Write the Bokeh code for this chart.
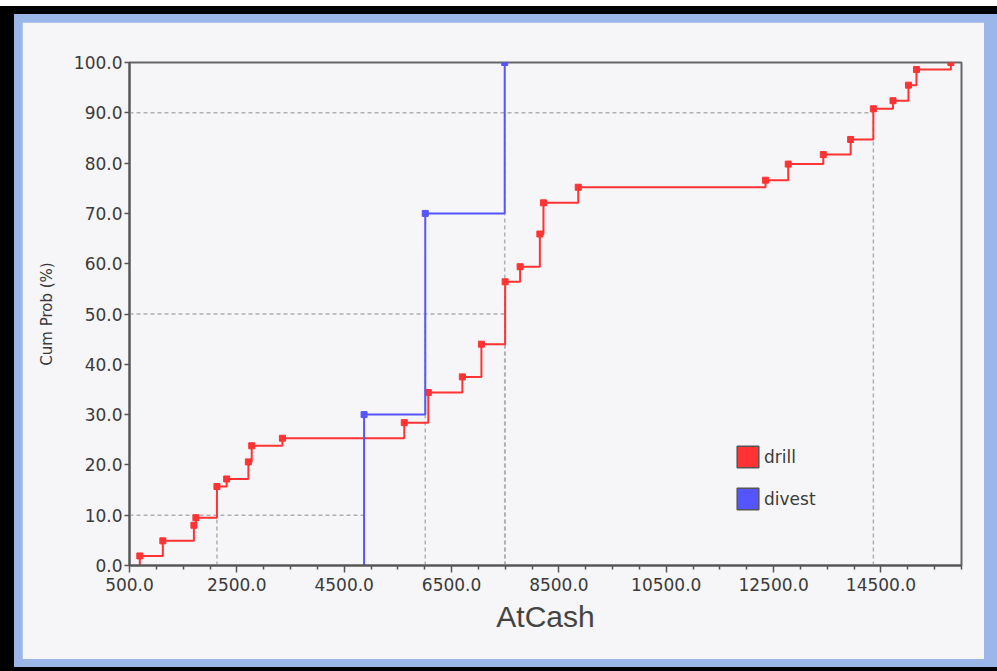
from bokeh.plotting import figure
from bokeh.models import Range1d, FixedTicker, NumeralTickFormatter, Legend, LegendItem
from bokeh.layouts import column
from bokeh.embed import file_html
from bokeh.resources import INLINE

# ---- data ----
drill_x = [692, 1121, 1700, 1737, 2129, 2310, 2715, 2777, 3349, 5619, 6067,
           6701, 7056, 7498, 7777, 8145, 8212, 8860,
           12349, 12772, 13425, 13935, 14358, 14724, 15012, 15161, 15802]
drill_cum = [1.9, 4.9, 8.0, 9.5, 15.7, 17.2, 20.6, 23.8, 25.3, 28.4, 34.4,
             37.5, 44.0, 56.4, 59.4, 65.9, 72.1, 75.2,
             76.6, 79.8, 81.7, 84.7, 90.8, 92.4, 95.5, 98.6, 100.0]
divest_x = [4870, 6010, 7490]
divest_cum = [30.0, 70.0, 100.0]

pct_levels = [10, 50, 90]
drill_pct_x = [2129, 7498, 14358]
divest_pct_x = [4870, 6010, 7490]

x_min, x_max = 500, 16000
y_min, y_max = 0, 100
x_major_ticks = [500, 2500, 4500, 6500, 8500, 10500, 12500, 14500]
x_minor_ticks = [1000, 1500, 2000, 3000, 3500, 4000, 5000, 5500, 6000, 7000, 7500, 8000,
                 9000, 9500, 10000, 11000, 11500, 12000, 13000, 13500, 14000, 15000,
                 15500, 16000]
y_ticks = [0, 10, 20, 30, 40, 50, 60, 70, 80, 90, 100]

RED = "#ff3333"
BLUE = "#5555ff"
PANEL = "#f6f5f8"
TXT = "#3a3a3a"
FONT = "DejaVu Sans"
NAN = float("nan")

p = figure(width=962, height=637, output_backend="svg", toolbar_location=None,
           x_range=Range1d(x_min, x_max), y_range=Range1d(y_min, y_max),
           min_border_left=107, min_border_right=23, min_border_top=40, min_border_bottom=94)
p.background_fill_color = PANEL
p.border_fill_color = PANEL
p.outline_line_color = "#666666"
p.outline_line_width = 2
p.xgrid.visible = False
p.ygrid.visible = False

# percentile reference lines (dashed)
for lvl, dx, vx in zip(pct_levels, drill_pct_x, divest_pct_x):
    p.line([x_min, max(dx, vx)], [lvl, lvl], line_color="#b0b0b0", line_width=1.5, line_dash="4 3")
    p.line([dx, dx], [y_min, lvl], line_color="#b0b0b0", line_width=1.5, line_dash="4 3")
    p.line([vx, vx], [y_min, lvl], line_color="#b0b0b0", line_width=1.5, line_dash="4 3")

# step curves
p.step([drill_x[0]] + drill_x, [y_min] + drill_cum, mode="after", line_color=RED, line_width=2)
p.scatter(drill_x, drill_cum, marker="square", size=6, fill_color=RED, line_color=RED)
p.step([divest_x[0]] + divest_x, [y_min] + divest_cum, mode="after", line_color=BLUE, line_width=2)
p.scatter(divest_x, divest_cum, marker="square", size=6, fill_color=BLUE, line_color=BLUE)

# axes
xa = p.xaxis[0]
xa.ticker = FixedTicker(ticks=x_major_ticks, minor_ticks=x_minor_ticks)
xa.formatter = NumeralTickFormatter(format="0.0")
xa.axis_label = "AtCash"
xa.axis_label_text_font = "Liberation Sans"
xa.axis_label_text_font_size = "30px"
xa.axis_label_text_font_style = "normal"
xa.axis_label_text_color = "#444444"
xa.axis_label_standoff = 6
ya = p.yaxis[0]
ya.ticker = FixedTicker(ticks=y_ticks, minor_ticks=[])
ya.formatter = NumeralTickFormatter(format="0.0")
ya.axis_label = "Cum Prob (%)"
ya.axis_label_text_font = FONT
ya.axis_label_text_font_size = "15px"
ya.axis_label_text_font_style = "normal"
ya.axis_label_text_color = TXT
ya.axis_label_standoff = 15
for ax in (xa, ya):
    ax.axis_line_color = "#555555"
    ax.axis_line_width = 2
    ax.major_tick_line_color = "#555555"
    ax.minor_tick_line_color = "#555555"
    ax.major_tick_line_width = 1.5
    ax.minor_tick_line_width = 1.5
    ax.major_tick_in = 0
    ax.minor_tick_in = 0
    ax.major_label_text_font = FONT
    ax.major_label_text_font_size = "17px"
    ax.major_label_text_color = TXT
xa.major_tick_out = 7
xa.minor_tick_out = 4
xa.major_label_standoff = 5
ya.major_tick_out = 5
ya.minor_tick_out = 0
ya.major_label_standoff = 2

# legend (swatch renderers hold a single NaN row, so they draw nothing in the plot)
leg_drill = p.quad(left=[NAN], right=[NAN], top=[NAN], bottom=[NAN],
                   fill_color=RED, line_color="#555555", line_width=1.5)
leg_divest = p.quad(left=[NAN], right=[NAN], top=[NAN], bottom=[NAN],
                    fill_color=BLUE, line_color="#555555", line_width=1.5)
legend = Legend(items=[LegendItem(label="drill", renderers=[leg_drill]),
                       LegendItem(label="divest", renderers=[leg_divest])],
                location=(605, 53), padding=0, margin=0, spacing=15,
                glyph_width=27, glyph_height=27, label_standoff=3,
                label_text_font=FONT, label_text_font_size="17px", label_text_color=TXT,
                background_fill_alpha=0, border_line_alpha=0)
p.add_layout(legend)

layout = column(p, styles={"margin-top": "6px",
                           "border-top": "8px solid #000000", "border-left": "14px solid #000000",
                           "border-bottom": "4px solid #000000",
                           "background-color": "#9bb6e9",
                           "padding": "8px 13px 8px 8px"})

open("out.html", "w").write(file_html(layout, INLINE))
